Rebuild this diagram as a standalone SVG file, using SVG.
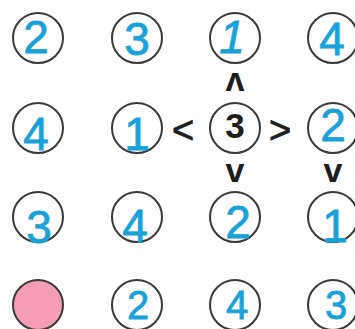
<svg xmlns="http://www.w3.org/2000/svg" width="355" height="329" viewBox="0 0 355 329">
<style>
.c{fill:#fff;stroke:#3a3a3a;stroke-width:2}
.p{fill:#f59db5;stroke:#3a3a3a;stroke-width:2}
.d{font-family:"Liberation Sans",Arial,sans-serif;font-size:46px;fill:#18a2d9;stroke:#18a2d9;stroke-width:0.8;text-anchor:middle}
.e{font-size:40px}
.b{font-family:"Liberation Sans",Arial,sans-serif;font-weight:bold;font-size:35px;fill:#1e1e1e;text-anchor:middle}
.a{font-family:"Liberation Sans",Arial,sans-serif;font-weight:bold;font-size:34px;fill:#1e1e1e;text-anchor:middle}
.s{font-family:"Liberation Sans",Arial,sans-serif;font-size:38px;fill:#1e1e1e;stroke:#1e1e1e;stroke-width:0.8;text-anchor:middle}
</style>
<rect width="355" height="329" fill="#fff"/>
<g id="r1c1"><circle class="c" cx="38" cy="38" r="25"/><text class="d" x="36" y="53">2</text></g>
<g id="r1c2"><circle class="c" cx="137" cy="38" r="25"/><text class="d" x="137" y="55">3</text></g>
<g id="r1c3"><circle class="c" cx="235" cy="38" r="25"/><text class="d" x="232" y="53" font-style="italic">1</text></g>
<g id="r1c4"><circle class="c" cx="333" cy="38" r="25"/><text class="d" x="332" y="55">4</text></g>
<g id="r2c1"><circle class="c" cx="38" cy="128" r="25"/><text class="d" x="36" y="150">4</text></g>
<g id="r2c2"><circle class="c" cx="137" cy="128" r="25"/><text class="d" x="137" y="150">1</text></g>
<g id="r2c3"><circle class="c" cx="235" cy="128" r="25"/><text class="b" x="235" y="138">3</text></g>
<g id="r2c4"><circle class="c" cx="333" cy="128" r="25"/><text class="d" x="333" y="141">2</text></g>
<g id="r3c1"><circle class="c" cx="38" cy="217" r="25"/><text class="d" x="39" y="243">3</text></g>
<g id="r3c2"><circle class="c" cx="137" cy="217" r="25"/><text class="d" x="135" y="242">4</text></g>
<g id="r3c3"><circle class="c" cx="235" cy="217" r="25"/><text class="d" x="238" y="238">2</text></g>
<g id="r3c4"><circle class="c" cx="333" cy="217" r="25"/><text class="d" x="335" y="242">1</text></g>
<g id="r4c1"><circle class="p" cx="38" cy="305" r="25"/></g>
<g id="r4c2"><circle class="c" cx="137" cy="305" r="25"/><text class="d e" x="138" y="319">2</text></g>
<g id="r4c3"><circle class="c" cx="235" cy="305" r="25"/><text class="d e" x="237" y="319">4</text></g>
<g id="r4c4"><circle class="c" cx="333" cy="305" r="25"/><text class="d e" x="336" y="319">3</text></g>
<g id="signs">
<text class="s" x="183" y="143">&lt;</text>
<text class="s" x="280" y="143">&gt;</text>
<text class="a" x="235" y="93" transform="rotate(180 235 83)">v</text>
<text class="a" x="235" y="182">v</text>
<text class="a" x="333" y="182">v</text>
</g>
</svg>
